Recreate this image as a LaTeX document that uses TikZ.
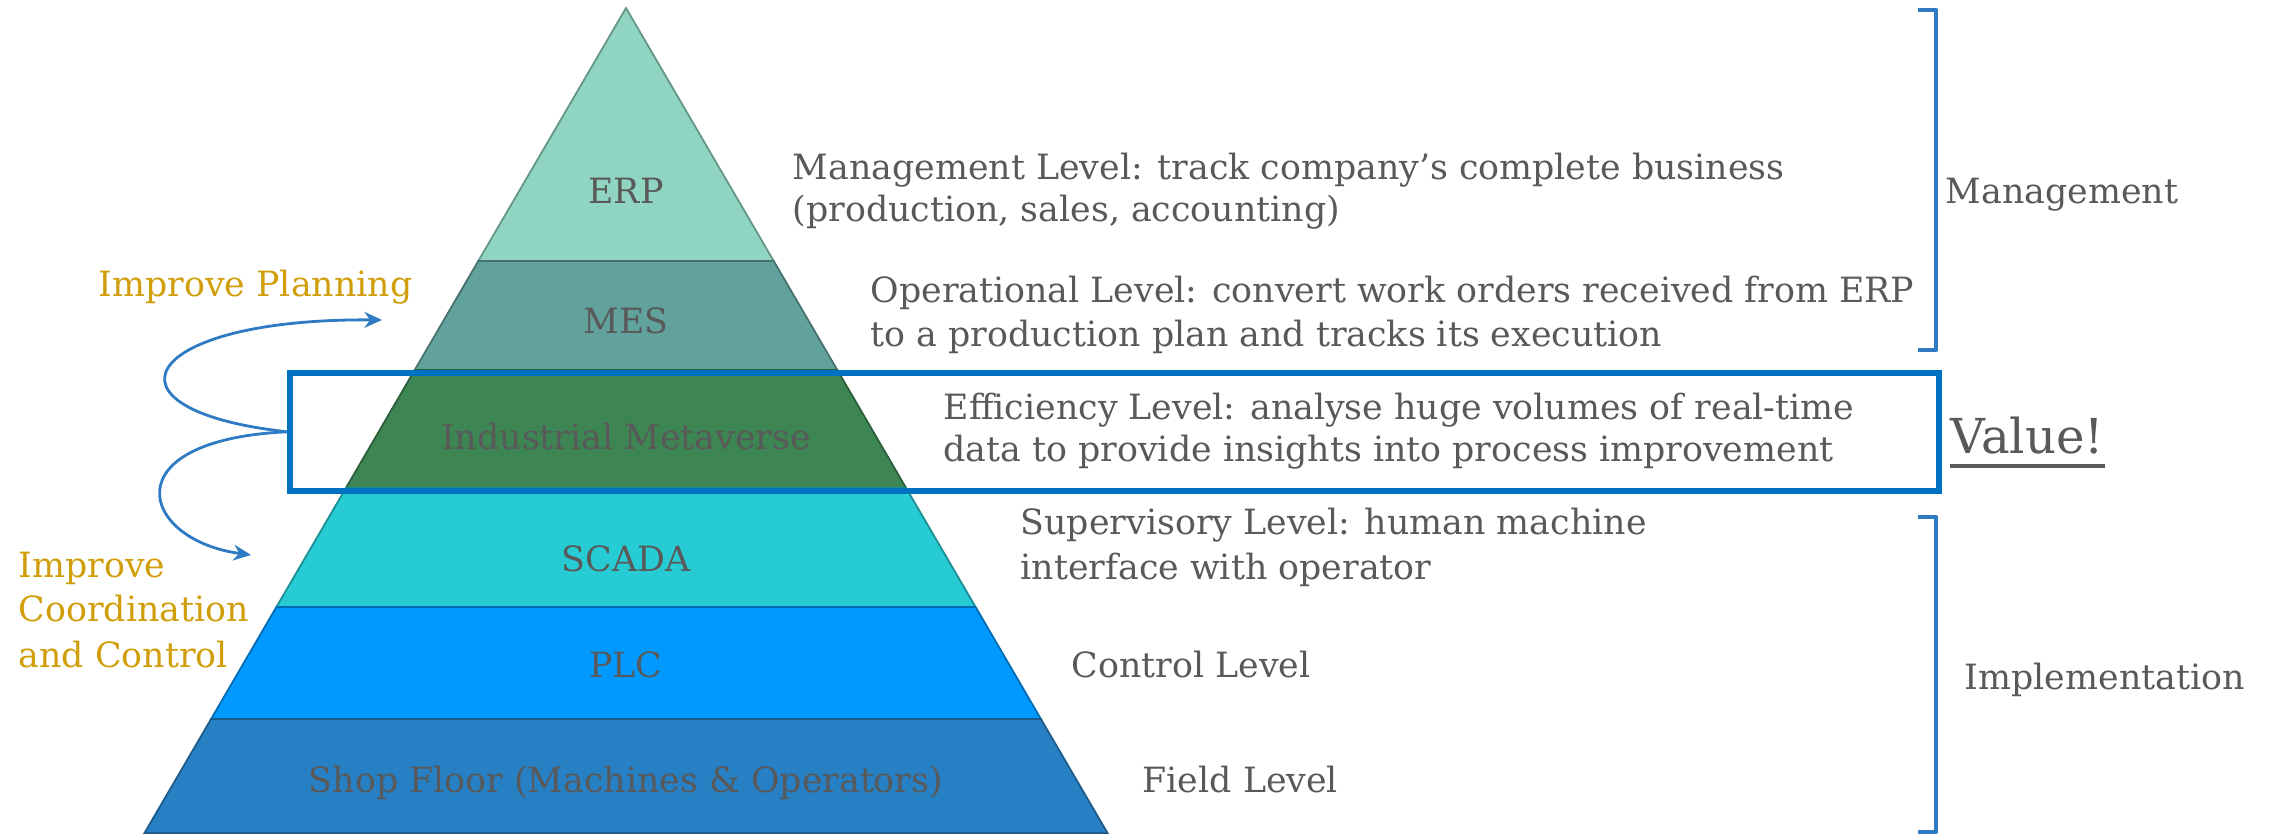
\documentclass[tikz,border=0pt]{standalone}
\usepackage{fontspec}
\setmainfont{DejaVu Serif}
\usetikzlibrary{arrows.meta}
\definecolor{cERP}{HTML}{8FD5C1}
\definecolor{cMES}{HTML}{62A29D}
\definecolor{cIM}{HTML}{3D8653}
\definecolor{cSCADA}{HTML}{26CBD4}
\definecolor{cPLC}{HTML}{0099FF}
\definecolor{cSHOP}{HTML}{2780C4}
\definecolor{txt}{HTML}{595959}
\definecolor{gold}{HTML}{D19E0A}
\definecolor{boxblue}{HTML}{0070C0}
\definecolor{brblue}{HTML}{2E7BC4}
\begin{document}
\begin{tikzpicture}[x=0.1mm,y=-0.1mm,
  lbl/.style={inner sep=0pt, text=txt, font=\fontsize{9.9}{12}\selectfont},
  desc/.style={lbl, anchor=base west},
  plab/.style={lbl, anchor=base},
  goldlbl/.style={desc, text=gold},
  layer/.style={draw=#1!70!black, line width=0.5pt, fill=#1},
  brace/.style={draw=brblue, line width=1.2pt, line join=round},
  curve/.style={draw=brblue, line width=0.8pt, -{Stealth[length=5pt,width=4.5pt]}}]
\useasboundingbox (0,0) rectangle (2284,834);
% pyramid layers
\path[layer=cERP] (626,8) -- (773.7,261) -- (478.3,261) -- cycle;
\path[layer=cMES] (478.3,261) -- (773.7,261) -- (837.3,370) -- (414.7,370) -- cycle;
\path[layer=cIM] (414.7,370) -- (837.3,370) -- (906.1,488) -- (345.9,488) -- cycle;
\path[layer=cSCADA] (345.9,488) -- (906.1,488) -- (975.6,607) -- (276.4,607) -- cycle;
\path[layer=cPLC] (276.4,607) -- (975.6,607) -- (1040.9,719) -- (211.1,719) -- cycle;
\path[layer=cSHOP] (211.1,719) -- (1040.9,719) -- (1107.5,833) -- (144.5,833) -- cycle;
% pyramid labels
\node[plab] (erp) at (626,204) {ERP};
\node[plab] (mes) at (626,334) {MES};
\node[plab] (im) at (626,450) {Industrial Metaverse};
\node[plab] (scada) at (626,571) {SCADA};
\node[plab] (plc) at (626,677) {PLC};
\node[plab] (shop) at (626,792) {Shop Floor (Machines \& Operators)};
% efficiency box
\node[draw=boxblue, line width=1.6pt, minimum width=164.9mm, minimum height=11.8mm,
      anchor=north west, inner sep=0pt] (effbox) at (287,370) {};
% descriptions
\node[desc] (erp1) at (792,180) {Management Level: track company’s complete business};
\node[desc] (erp2) at (792,222) {(production, sales, accounting)};
\node[desc] (mes1) at (870,303) {Operational Level: convert work orders received from ERP};
\node[desc] (mes2) at (870,347) {to a production plan and tracks its execution};
\node[desc] (im1) at (943,420) {Efficiency Level: analyse huge volumes of real-time};
\node[desc] (im2) at (943,462) {data to provide insights into process improvement};
\node[desc] (sc1) at (1020,535) {Supervisory Level: human machine};
\node[desc] (sc2) at (1020,580) {interface with operator};
\node[desc] (plcd) at (1071,677) {Control Level};
\node[desc] (shopd) at (1142,792) {Field Level};
% brackets
\draw[brace] (1918,10) -- (1936,10) -- (1936,350) -- (1918,350);
\draw[brace] (1918,517) -- (1936,517) -- (1936,832) -- (1918,832);
\node[desc] (mgmt) at (1945,204) {Management};
\node[desc] (impl) at (1964,689) {Implementation};
\node[desc, font=\fontsize{13.7}{16}\selectfont] (value) at (1950,454) {Value!};
\draw[txt, line width=1pt] ([yshift=-3pt]value.south west) -- ([yshift=-3pt]value.south east);
% left labels
\node[goldlbl] (plan) at (98,297) {Improve Planning};
\node[goldlbl] (coord1) at (18,577) {Improve};
\node[goldlbl] (coord2) at (18,621) {Coordination};
\node[goldlbl] (coord3) at (18,667) {and Control};
% curved arrows
\coordinate (plantip) at (382,320);
\coordinate (coordtip) at (251,555);
\draw[curve] (effbox.west) .. controls (90,410) and (140,318) .. (plantip);
\draw[curve] (effbox.west) .. controls (110,440) and (140,540) .. (coordtip);
\end{tikzpicture}
\end{document}
